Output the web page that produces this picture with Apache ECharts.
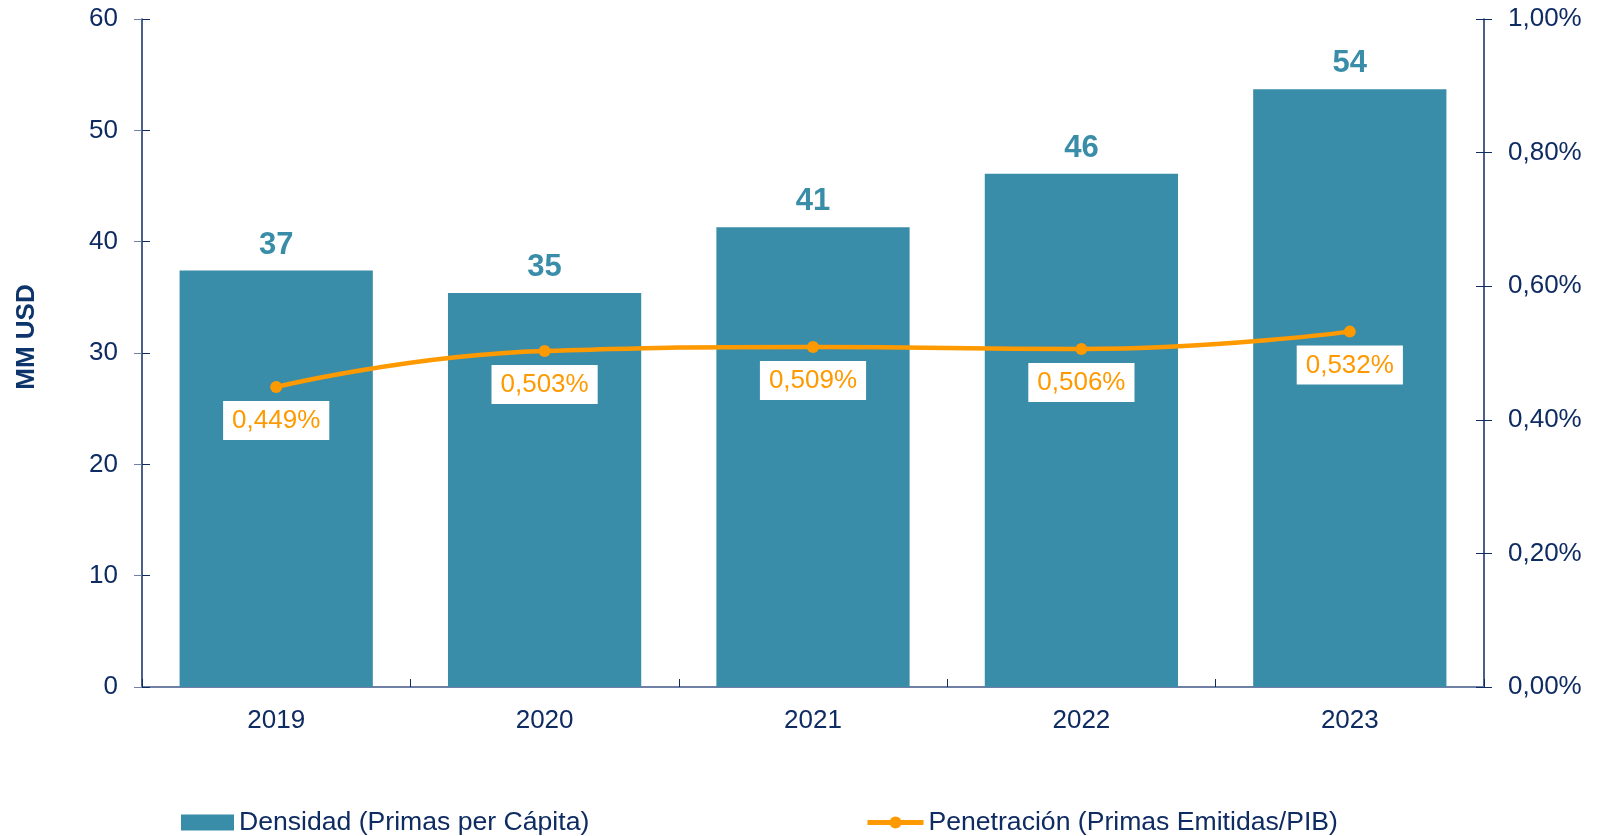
<!DOCTYPE html>
<html>
<head>
<meta charset="utf-8">
<script src="https://cdn.jsdelivr.net/npm/echarts@6/dist/echarts.min.js"></script>
<style>
  html, body { margin: 0; padding: 0; background: #fff; }
  #chart { width: 1598px; height: 836px; }
</style>
</head>
<body>
<div id="chart"></div>
<script>
var years = ['2019', '2020', '2021', '2022', '2023'];
// densidad, MM USD
var densidad = [37.4, 35.4, 41.3, 46.1, 53.7];
// penetracion, % of PIB
var penetracion = [0.449, 0.503, 0.509, 0.506, 0.532];

var navy = '#0e2b62';
var font = 'Liberation Sans, Arial, sans-serif';

function pct(v, d) {
    return v.toFixed(d).replace('.', ',') + '%';
}

var myChart = echarts.init(document.getElementById('chart'));

// ticks in the picture cross the axis line, so a second copy of each axis draws the inner half
var tickOnly = function (extra) {
    return Object.assign({
        axisLine: { show: false },
        axisLabel: { show: false },
        splitLine: { show: false },
        axisTick: { show: true, inside: true, length: 8, lineStyle: { color: navy } }
    }, extra);
};

var option = {
    animation: false,
    textStyle: { fontFamily: font },
    grid: { left: 142, right: 114, top: 19, bottom: 149 },
    legend: [{
        top: 804,
        left: 176,
        itemWidth: 53,
        itemHeight: 16,
        textStyle: { color: navy, fontSize: 26.6, fontFamily: font },
        data: [{ name: 'Densidad (Primas per Cápita)', icon: 'rect' }]
    }, {
        top: 804,
        left: 860,
        itemWidth: 56,
        itemHeight: 15,
        lineStyle: { width: 5 },
        textStyle: { color: navy, fontSize: 26.6, fontFamily: font },
        data: [{ name: 'Penetración (Primas Emitidas/PIB)' }]
    }],
    xAxis: [{
        type: 'category',
        data: years,
        axisLine: { lineStyle: { color: '#6f7fa6', width: 2 } },
        axisTick: { length: 8, lineStyle: { color: navy } },
        axisLabel: { color: navy, fontSize: 26, margin: 21, fontFamily: font }
    }, tickOnly({
        type: 'category',
        data: years,
        position: 'bottom'
    })],
    yAxis: [{
        type: 'value',
        min: 0,
        max: 60,
        interval: 10,
        name: 'MM USD',
        nameLocation: 'middle',
        nameGap: 102,
        nameTextStyle: {
            color: '#0d356b', fontSize: 26, fontWeight: 'bold', fontFamily: font,
            padding: [0, 0, 0, 32]
        },
        splitLine: { show: false },
        axisLine: { show: true, lineStyle: { color: navy, width: 1.5 } },
        axisTick: { show: true, length: 8, lineStyle: { color: '#6f7fa6' } },
        axisLabel: { color: navy, fontSize: 26, margin: 24, fontFamily: font }
    }, {
        type: 'value',
        min: 0,
        max: 1,
        interval: 0.2,
        position: 'right',
        splitLine: { show: false },
        axisLine: { show: true, lineStyle: { color: navy, width: 1.5 } },
        axisTick: { show: true, length: 8, lineStyle: { color: navy } },
        axisLabel: {
            color: navy, fontSize: 26, margin: 24, fontFamily: font,
            formatter: function (v) { return pct(v, 2); }
        }
    }, tickOnly({
        type: 'value', min: 0, max: 60, interval: 10, position: 'left'
    }), tickOnly({
        type: 'value', min: 0, max: 1, interval: 0.2, position: 'right'
    })],
    series: [{
        name: 'Densidad (Primas per Cápita)',
        type: 'bar',
        data: densidad,
        barWidth: '72%',
        itemStyle: { color: '#3a8da8' },
        label: {
            show: true,
            position: 'top',
            distance: 10,
            color: '#3a8da8',
            fontSize: 31,
            fontWeight: 'bold',
            fontFamily: font,
            formatter: function (p) { return Math.round(p.value); }
        }
    }, {
        name: 'Penetración (Primas Emitidas/PIB)',
        type: 'line',
        yAxisIndex: 1,
        data: penetracion,
        smooth: true,
        symbol: 'circle',
        symbolSize: 12,
        itemStyle: { color: '#ff9900' },
        lineStyle: { color: '#ff9900', width: 4.5 },
        label: {
            show: true,
            position: 'bottom',
            distance: 8,
            color: '#ff9900',
            fontSize: 26,
            fontFamily: font,
            backgroundColor: '#ffffff',
            padding: [7, 9, 6, 9],
            formatter: function (p) { return pct(p.value, 3); }
        }
    }]
};

myChart.setOption(option);
</script>
</body>
</html>
